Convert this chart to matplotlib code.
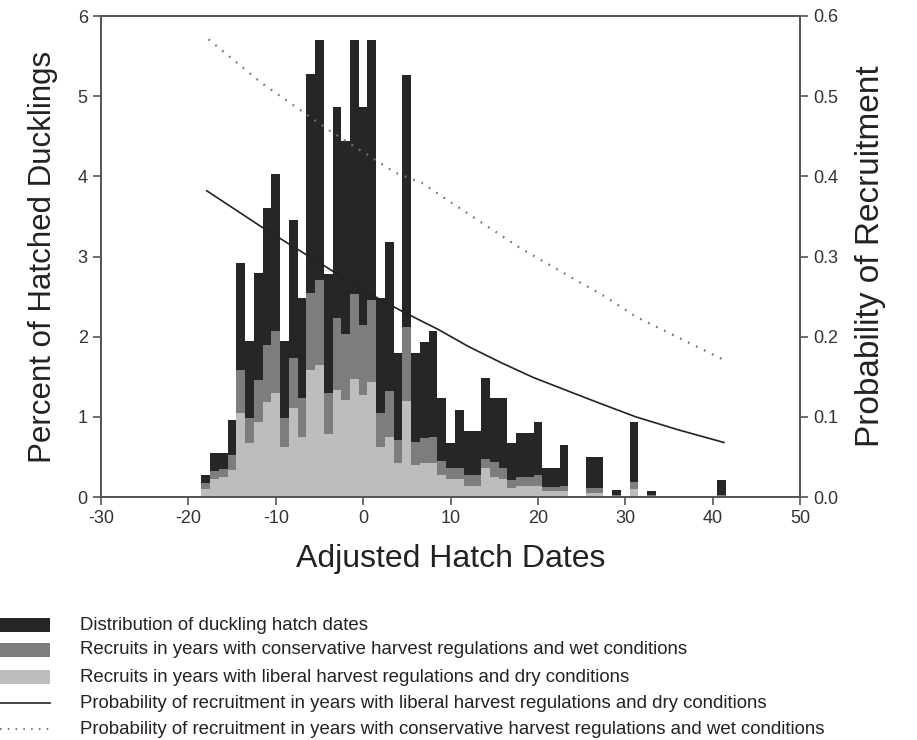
import matplotlib
matplotlib.use("Agg")
import matplotlib.pyplot as plt
from matplotlib.patches import Rectangle
from matplotlib.lines import Line2D

plt.rcParams['font.family'] = ['Liberation Sans', 'DejaVu Sans']
plt.rcParams['axes.unicode_minus'] = False

# hatch day bins (one day wide)
days = list(range(-18, 42))

# percent of hatched ducklings (dark bars)
total = [0.28, 0.55, 0.55, 0.96, 2.92, 1.95, 2.79, 3.61, 4.03, 1.94,
         3.46, 2.48, 5.28, 5.70, 2.78, 4.86, 4.44, 5.70, 4.86, 5.70,
         2.48, 3.18, 1.80, 5.26, 1.80, 1.93, 2.07, 1.23, 0.67, 1.08,
         0.82, 0.82, 1.48, 1.23, 1.23, 0.67, 0.80, 0.80, 0.94, 0.36,
         0.36, 0.65, 0.0, 0.0, 0.50, 0.50, 0.0, 0.09, 0.0, 0.93,
         0.0, 0.08, 0.0, 0.0, 0.0, 0.0, 0.0, 0.0, 0.0, 0.21]
# recruits, conservative harvest / wet (medium grey)
wet = [0.17, 0.32, 0.35, 0.53, 1.59, 0.98, 1.46, 1.90, 2.07, 0.99,
       1.73, 1.23, 2.55, 2.71, 1.30, 2.23, 2.03, 2.53, 2.15, 2.46,
       1.05, 1.32, 0.71, 2.12, 0.69, 0.73, 0.75, 0.45, 0.36, 0.36,
       0.28, 0.28, 0.48, 0.44, 0.36, 0.21, 0.25, 0.25, 0.28, 0.13,
       0.13, 0.14, 0.0, 0.0, 0.11, 0.11, 0.0, 0.03, 0.0, 0.19,
       0.0, 0.02, 0.0, 0.0, 0.0, 0.0, 0.0, 0.0, 0.0, 0.03]
# recruits, liberal harvest / dry (light grey)
dry = [0.10, 0.22, 0.25, 0.34, 1.05, 0.67, 0.94, 1.19, 1.30, 0.62,
       1.11, 0.75, 1.58, 1.65, 0.78, 1.34, 1.21, 1.47, 1.27, 1.43,
       0.62, 0.75, 0.42, 1.20, 0.40, 0.42, 0.42, 0.27, 0.23, 0.22,
       0.14, 0.14, 0.36, 0.25, 0.22, 0.11, 0.14, 0.14, 0.14, 0.07,
       0.07, 0.08, 0.0, 0.0, 0.05, 0.05, 0.0, 0.01, 0.0, 0.10,
       0.0, 0.01, 0.0, 0.0, 0.0, 0.0, 0.0, 0.0, 0.0, 0.01]

# probability of recruitment curves
lib_x = [-17.9, -11.5, -4.1, 0.0, 4.4, 8.6, 12.0, 15.9, 19.5, 23.5, 27.3, 31.2, 36.0, 41.3]
lib_y = [0.382, 0.336, 0.286, 0.258, 0.232, 0.209, 0.188, 0.167, 0.149, 0.132, 0.116, 0.100, 0.084, 0.068]
con_x = [-17.7, -11.7, -4.1, 3.6, 6.7, 8.6, 18.2, 24.3, 27.7, 31.2, 41.1]
con_y = [0.571, 0.517, 0.459, 0.405, 0.392, 0.378, 0.309, 0.271, 0.250, 0.225, 0.172]

legend_labels = [
    "Distribution of duckling hatch dates",
    "Recruits in years with conservative harvest regulations and wet conditions",
    "Recruits in years with liberal harvest regulations and dry conditions",
    "Probability of recruitment in years with liberal harvest regulations and dry conditions",
    "Probability of recruitment in years with conservative harvest regulations and wet conditions",
]

c_dark = '#262626'
c_mid = '#7d7d7d'
c_light = '#bdbdbd'
c_axis = '#555555'

fig = plt.figure(figsize=(9.17, 7.4), dpi=100)
ax = fig.add_axes([101 / 917, 1 - 497 / 740, 699 / 917, 481 / 740])

ax.bar(days, total, width=1.0, color=c_dark, linewidth=0)
ax.bar(days, wet, width=1.0, color=c_mid, linewidth=0)
ax.bar(days, dry, width=1.0, color=c_light, linewidth=0)

ax.set_xlim(-30, 50)
ax.set_ylim(0, 6)
ax.set_xticks(range(-30, 51, 10))
ax.set_yticks(range(0, 7))
ax.set_xlabel("Adjusted Hatch Dates", fontsize=23, color='#222222', labelpad=12)
ax.set_ylabel("Percent of Hatched Ducklings", fontsize=22.5, color='#222222', labelpad=14)

ax2 = ax.twinx()
ax2.plot(lib_x, lib_y, color='#222222', lw=1.2)
ax2.plot(con_x, con_y, color='#777777', lw=1.6, linestyle=(0, (0.8, 3.2)))
ax2.set_ylim(0, 0.6)
ax2.set_yticks([0.0, 0.1, 0.2, 0.3, 0.4, 0.5, 0.6])
ax2.set_yticklabels(["0.0", "0.1", "0.2", "0.3", "0.4", "0.5", "0.6"])
ax2.set_ylabel("Probability of Recruitment", fontsize=24, color='#222222', labelpad=12)

for a in (ax, ax2):
    for s in a.spines.values():
        s.set_color(c_axis)
        s.set_linewidth(1.3)
    a.tick_params(direction='out', length=6, width=1.2, color=c_axis,
                  labelsize=13, labelcolor='#333333')

# legend under the plot, drawn by hand
rows_y = [625, 650, 677, 703, 729]
for i, lab in enumerate(legend_labels):
    yf = 1 - rows_y[i] / 740
    if i == 0:
        fig.add_artist(Rectangle((0, yf - 7 / 740), 50 / 917, 14 / 740,
                                 transform=fig.transFigure, color=c_dark, lw=0))
    elif i == 1:
        fig.add_artist(Rectangle((0, yf - 7 / 740), 50 / 917, 14 / 740,
                                 transform=fig.transFigure, color=c_mid, lw=0))
    elif i == 2:
        fig.add_artist(Rectangle((0, yf - 7 / 740), 50 / 917, 14 / 740,
                                 transform=fig.transFigure, color=c_light, lw=0))
    elif i == 3:
        fig.add_artist(Line2D([0, 50 / 917], [yf, yf], transform=fig.transFigure,
                              color='#222222', lw=1.2))
    else:
        fig.add_artist(Line2D([0, 50 / 917], [yf, yf], transform=fig.transFigure,
                              color='#777777', lw=1.4, linestyle=(0, (0.8, 3.2))))
    fig.text(80 / 917, yf, lab, fontsize=13.4, color='#222222', va='center', ha='left')

fig.savefig("out.png", dpi=100)
